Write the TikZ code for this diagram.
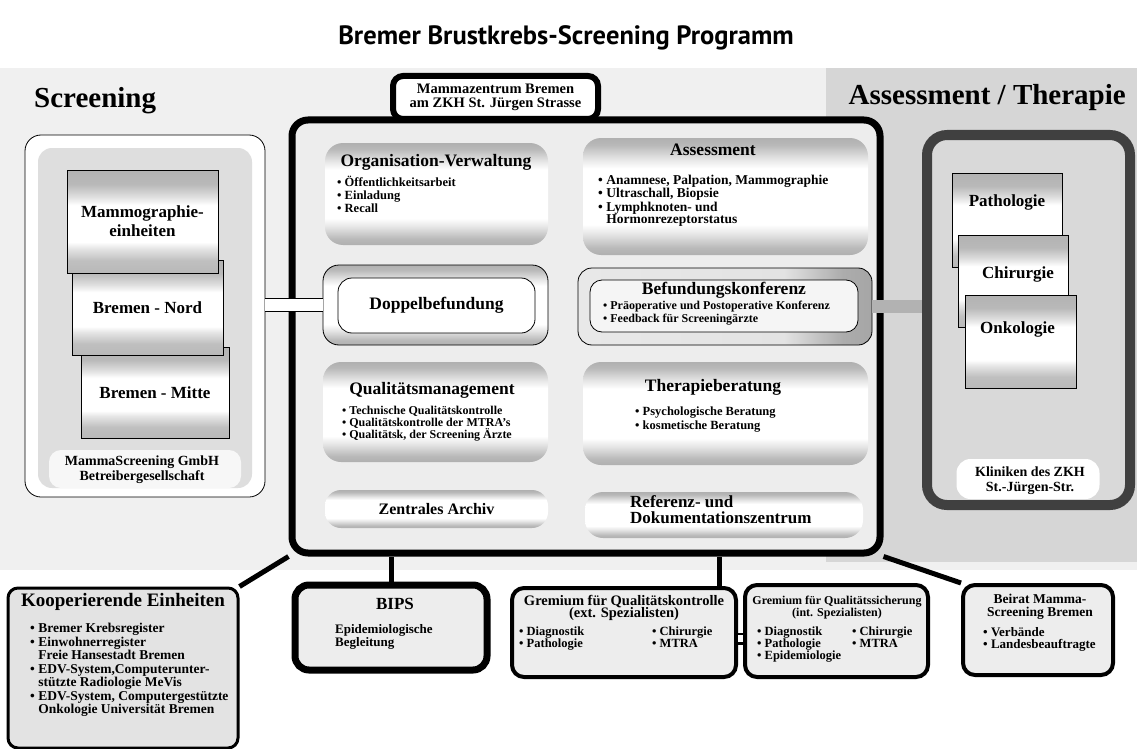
\documentclass[tikz,border=0pt]{standalone}
\usepackage{fontspec}
\setmainfont{Liberation Serif}
\newfontfamily\headfont{PT Sans}
\usepackage{tikz}
\usetikzlibrary{positioning}

% shadings for the grey-edged panels
\pgfdeclareverticalshading{pillshade}{100bp}{color(0bp)=(gray!62); color(25bp)=(gray!62); color(28bp)=(gray!55); color(34bp)=(gray!20); color(38bp)=(white); color(62bp)=(white); color(66bp)=(gray!20); color(72bp)=(gray!55); color(75bp)=(gray!62); color(100bp)=(gray!62)}
\pgfdeclareverticalshading{cardshade}{100bp}{color(0bp)=(gray!55); color(25bp)=(gray!55); color(31bp)=(gray!50); color(37bp)=(gray!20); color(40bp)=(white); color(58bp)=(white); color(62bp)=(gray!25); color(68bp)=(gray!55); color(75bp)=(gray!60); color(100bp)=(gray!60)}
\pgfdeclarehorizontalshading{befshade}{100bp}{color(0bp)=(gray!18); color(25bp)=(gray!18); color(60bp)=(gray!22); color(70bp)=(gray!65); color(75bp)=(gray!70); color(100bp)=(gray!70)}

\begin{document}
\begin{tikzpicture}[
    x=1pt, y=-1pt,
    frame/.style={draw=black, line width=7pt, rounded corners=16pt, inner sep=0pt},
    pill/.style={draw=none, shade, shading=pillshade, rounded corners=18pt, inner sep=0pt},
    card/.style={draw=black, line width=0.8pt, shade, shading=cardshade, inner sep=0pt, font=\bfseries\fontsize{17}{19}\selectfont, align=center},
    plainbox/.style={draw=black, line width=0.8pt, rounded corners=12pt, inner sep=0pt},
    lowbox/.style={draw=black, line width=4pt, rounded corners=12pt, fill=gray!14, inner sep=0pt},
    sidelabel/.style={font=\bfseries\fontsize{29}{32}\selectfont, inner sep=0pt},
    head/.style={font=\bfseries\fontsize{17.5}{19}\selectfont, inner sep=0pt, align=center},
    cardtext/.style={font=\bfseries\fontsize{17}{19}\selectfont, inner sep=0pt},
    items/.style={font=\bfseries\fontsize{12}{13}\selectfont, align=left, inner sep=0pt, anchor=north west},
    link/.style={draw=black, line width=5pt},
    pipe/.style={draw=black, line width=1.2pt, double=white, double distance=12pt},
    band/.style={draw=gray!60, line width=13pt},
    bridge/.style={draw=black, line width=2.5pt, double=white, double distance=7pt},
  ]
  \useasboundingbox (0,0) rectangle (1137,749);

  % Background
  \fill[gray!12] (0,68) rectangle (1137,570);
  \fill[gray!32] (826,68) rectangle (1137,562);

  % Title and side labels
  \node[font=\headfont\bfseries\fontsize{26.5}{30}\selectfont, inner sep=0pt] (title) at (566,38) {Bremer Brustkrebs-Screening Programm};
  \node[sidelabel, anchor=west] (scrlabel) at (34,101) {Screening};
  \node[sidelabel, anchor=east] (asslabel) at (1126,98) {Assessment / Therapie};

  % Main frame
  \node[frame, fill=gray!14, minimum width=588pt, minimum height=433pt] (main) at (586,336.5) {};
  \node[frame, line width=6pt, rounded corners=10pt, fill=white, minimum width=205pt, minimum height=43pt,
        font=\bfseries\fontsize{14.5}{14.5}\selectfont, align=center] (zkh) at (495.5,97.5) {Mammazentrum Bremen\\am ZKH St. Jürgen Strasse};

  % Left column
  \node[pill, minimum width=223pt, minimum height=102pt] (orgpill) at (436.5,194) {};
  \node[head] (org) at (436,162) {Organisation-Verwaltung};
  \node[items, font=\bfseries\fontsize{12.5}{13}\selectfont] (orgitems) at (337,176) {• Öffentlichkeitsarbeit\\• Einladung\\• Recall};

  \node[plainbox, shade, shading=pillshade, rounded corners=16pt, minimum width=225pt, minimum height=80pt] (doppelouter) at (435.5,305) {};
  \node[plainbox, head, fill=white, rounded corners=14pt, minimum width=197pt, minimum height=55pt] (doppel) at (436.5,305.5) {Doppelbefundung};

  \node[pill, minimum width=225pt, minimum height=100pt] (qmpill) at (435.5,412) {};
  \node[head] (qm) at (432,390) {Qualitätsmanagement};
  \node[items, font=\bfseries\fontsize{12}{12}\selectfont] (qmitems) at (342,406) {• Technische Qualitätskontrolle\\• Qualitätskontrolle der MTRA's\\• Qualitätsk, der Screening Ärzte};

  \node[pill, head, font=\bfseries\fontsize{16}{17}\selectfont, rounded corners=16pt, minimum width=223pt, minimum height=38pt] (archiv) at (436.5,509) {Zentrales Archiv};

  % Right column
  \node[pill, minimum width=285pt, minimum height=117pt] (asspill) at (725.5,196.5) {};
  \node[head] (ass) at (713,150) {Assessment};
  \node[items, font=\bfseries\fontsize{13.5}{12.5}\selectfont] (assitems) at (598,175) {• Anamnese, Palpation, Mammographie\\• Ultraschall, Biopsie\\[1.5pt]• Lymphknoten- und\\\hphantom{• }Hormonrezeptorstatus};

  \node[plainbox, shade, shading=befshade, rounded corners=14pt, minimum width=294pt, minimum height=77pt] (befouter) at (725,306.5) {};
  \node[plainbox, fill=gray!8, minimum width=268pt, minimum height=52pt] (befinner) at (724,306) {};
  \node[head] (bef) at (724,290) {Befundungskonferenz};
  \node[items] (befitems) at (603,301) {• Präoperative und Postoperative Konferenz\\• Feedback für Screeningärzte};

  \node[pill, minimum width=285pt, minimum height=103pt] (therpill) at (725.5,413.5) {};
  \node[head] (ther) at (713,387) {Therapieberatung};
  \node[items, font=\bfseries\fontsize{12.5}{14}\selectfont] (theritems) at (635,407) {• Psychologische Beratung\\• kosmetische Beratung};

  \node[pill, minimum width=278pt, minimum height=46pt] (refpill) at (724,515) {};
  \node[head, font=\bfseries\fontsize{17}{16}\selectfont, align=left, anchor=west] (ref) at (630,510) {Referenz- und\\Dokumentationszentrum};

  % Screening units
  \node[plainbox, fill=white, rounded corners=16pt, minimum width=240pt, minimum height=362pt] (scrouter) at (145,316) {};
  \node[fill=gray!26, rounded corners=14pt, inner sep=0pt, minimum width=214pt, minimum height=340pt] (scrinner) at (145,318) {};
  \node[card, minimum width=148pt, minimum height=91pt] (mitte) at (155,392.5) {Bremen - Mitte};
  \node[card, minimum width=151pt, minimum height=95pt] (nord) at (147.5,307.5) {Bremen - Nord};
  \node[card, minimum width=151pt, minimum height=103pt] (mammo) at (142.5,221.5) {Mammographie-\\einheiten};
  \node[fill=gray!6, rounded corners=12pt, inner sep=0pt, minimum width=192pt, minimum height=38pt] (gmbhpill) at (145,469) {};
  \node[font=\bfseries\fontsize{14}{15}\selectfont, align=center, inner sep=0pt] (gmbh) at (142,470) {MammaScreening GmbH\\Betreibergesellschaft};

  % Connectors on the middle row
  \draw[pipe] (scrouter.east |- doppelouter.west) -- (doppelouter.west);
  \draw[band] (befouter.east) -- ++(60,0) coordinate (bandend);

  % Clinics
  \node[draw=black!75, line width=10pt, fill=gray!30, rounded corners=20pt, inner sep=0pt, minimum width=203pt, minimum height=370pt] (clinic) at (1028.5,320) {};
  \node[card, minimum width=110pt, minimum height=94pt] (patho) at (1007,220) {};
  \node[cardtext, below=22pt of patho.north] (pathotxt) {Pathologie};
  \node[card, minimum width=110pt, minimum height=92pt] (chir) at (1013,281) {};
  \node[cardtext, below=32pt of chir.north, xshift=5pt] (chirtxt) {Chirurgie};
  \node[card, minimum width=111pt, minimum height=93pt] (onko) at (1020.5,341.5) {};
  \node[cardtext, below=27pt of onko.north, xshift=-3pt] (onkotxt) {Onkologie};
  \node[fill=white, rounded corners=14pt, inner sep=0pt, minimum width=143pt, minimum height=40pt] (klinpill) at (1028,479) {};
  \node[font=\bfseries\fontsize{14}{15}\selectfont, align=center, inner sep=0pt] (klinik) at (1030,481) {Kliniken des ZKH\\St.-Jürgen-Str.};

  % Lower row
  \node[draw=black, line width=3pt, rounded corners=10pt, fill=gray!22, inner sep=0pt, minimum width=230pt, minimum height=160pt] (koop) at (123,668) {};
  \node[head, font=\bfseries\fontsize{19}{20}\selectfont] (kooptitle) at (123,602) {Kooperierende Einheiten};
  \node[items, font=\bfseries\fontsize{13.5}{13}\selectfont] (koopitems) at (30,623) {• Bremer Krebsregister\\[1pt]• Einwohnerregister\\\hphantom{• }Freie Hansestadt Bremen\\[1pt]• EDV-System,Computerunter-\\\hphantom{• }stützte Radiologie MeVis\\[1pt]• EDV-System, Computergestützte\\\hphantom{• }Onkologie Universität Bremen};

  \node[frame, fill=gray!14, rounded corners=14pt, minimum width=192pt, minimum height=85pt] (bips) at (391,627.5) {};
  \node[head, font=\bfseries\fontsize{17}{18}\selectfont] (bipstitle) at (395,604) {BIPS};
  \node[items, font=\bfseries\fontsize{13}{13}\selectfont] (bipsitems) at (335,624) {Epidemiologische\\Begleitung};

  \node[lowbox, minimum width=224pt, minimum height=89pt] (gremk) at (624,632.5) {};
  \node[head, font=\bfseries\fontsize{14.5}{12.5}\selectfont] (gremktitle) at (624,608) {Gremium für Qualitätskontrolle\\(ext. Spezialisten)};
  \node[items, font=\bfseries\fontsize{12.5}{12}\selectfont] (gremkleft) at (519,627) {• Diagnostik\\• Pathologie};
  \node[items, font=\bfseries\fontsize{12.5}{12}\selectfont] (gremkright) at (652,627) {• Chirurgie\\• MTRA};

  \node[lowbox, minimum width=183pt, minimum height=92pt] (gremi) at (836.5,631) {};
  \node[head, font=\bfseries\fontsize{12}{12}\selectfont] (gremititle) at (837,608) {Gremium für Qualitätssicherung\\(int. Spezialisten)};
  \node[items, font=\bfseries\fontsize{12.5}{12}\selectfont] (gremileft) at (757,627) {• Diagnostik\\• Pathologie\\• Epidemiologie};
  \node[items, font=\bfseries\fontsize{12.5}{12}\selectfont] (gremiright) at (852,627) {• Chirurgie\\• MTRA};

  \node[lowbox, minimum width=150pt, minimum height=90pt] (beirat) at (1038,630) {};
  \node[head, font=\bfseries\fontsize{13.5}{13}\selectfont] (beirattitle) at (1040,607) {Beirat Mamma-\\Screening Bremen};
  \node[items, font=\bfseries\fontsize{13}{12.5}\selectfont] (beiratitems) at (983,627) {• Verbände\\• Landesbeauftragte};

  % Connectors to the lower row
  \coordinate (gkjoin) at (719,586);
  \draw[link] (main.south west) -- (koop.north east);
  \draw[link] (bips.north) -- (bips.north |- main.south);
  \draw[link] (gkjoin) -- (gkjoin |- main.south);
  \draw[link] (main.south east) -- (beirat.north west);
  \draw[bridge] ([yshift=-6pt]gremk.east) -- ([yshift=-6pt]gremk.east -| gremi.west);
\end{tikzpicture}
\end{document}
